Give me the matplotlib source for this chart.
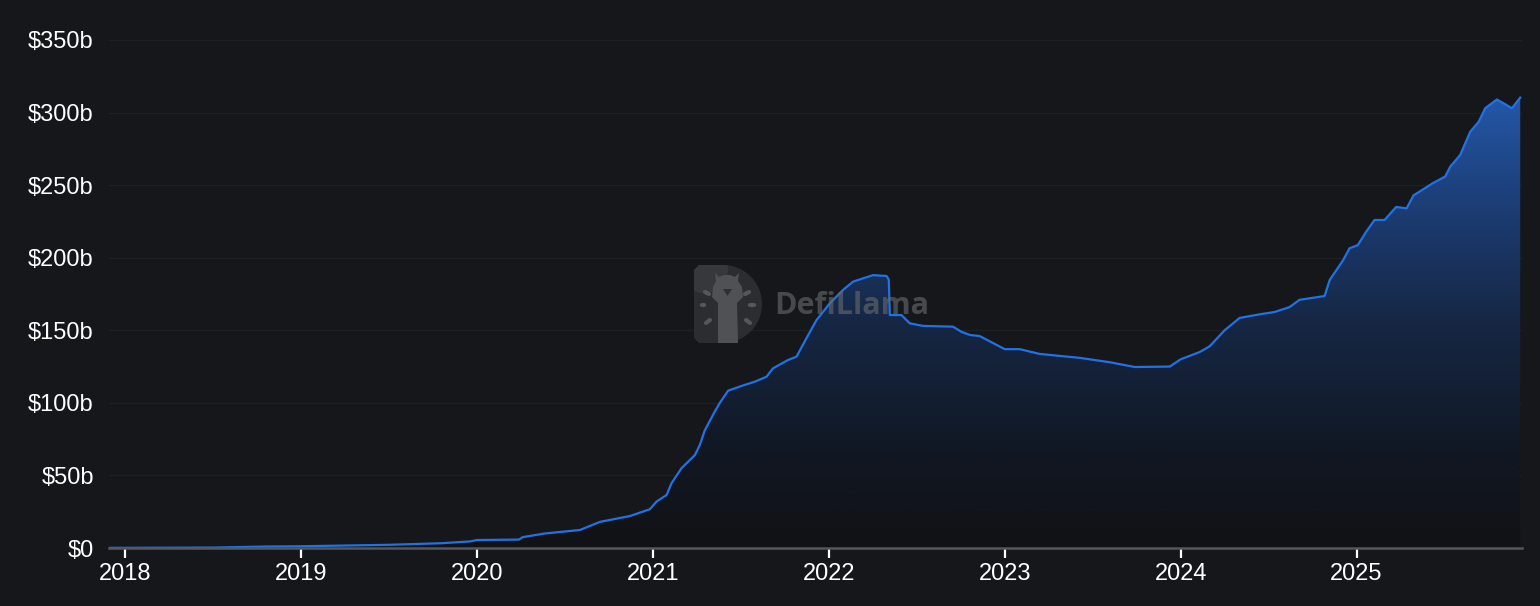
import matplotlib
matplotlib.use("Agg")
import matplotlib.pyplot as plt
import numpy as np
from matplotlib.path import Path
from matplotlib.patches import PathPatch, Circle, Polygon

# TVL readings (decimal year, $ billions)
years = [2017.909, 2018.5, 2018.795, 2019.0, 2019.5, 2019.8, 2019.96, 2020.0,
         2020.239, 2020.261, 2020.386, 2020.585, 2020.699, 2020.869, 2020.983,
         2021.021, 2021.078, 2021.106, 2021.163, 2021.239, 2021.267, 2021.295,
         2021.352, 2021.381, 2021.428, 2021.513, 2021.580, 2021.646, 2021.683,
         2021.768, 2021.816, 2021.835, 2021.873, 2021.930, 2022.006, 2022.081,
         2022.138, 2022.195, 2022.252, 2022.328, 2022.341, 2022.347, 2022.413,
         2022.460, 2022.536, 2022.706, 2022.753, 2022.801, 2022.858, 2023.0,
         2023.085, 2023.199, 2023.426, 2023.597, 2023.739, 2023.938, 2024.0,
         2024.108, 2024.165, 2024.250, 2024.335, 2024.449, 2024.534, 2024.619,
         2024.676, 2024.818, 2024.847, 2024.922, 2024.960, 2025.007, 2025.055,
         2025.102, 2025.159, 2025.225, 2025.284, 2025.324, 2025.390, 2025.428,
         2025.504, 2025.532, 2025.589, 2025.609, 2025.646, 2025.694, 2025.731,
         2025.797, 2025.845, 2025.883, 2025.930]
tvl = [0.1, 0.3, 1.0, 1.2, 2.2, 3.3, 4.5, 5.5,
       5.8, 7.5, 10, 12.4, 18, 22, 26.7,
       32, 36.5, 44.6, 55, 64, 71, 81,
       94, 100, 108.4, 112, 114.6, 118, 123.8,
       129.5, 131.8, 136, 144.5, 157, 168.6, 177.8,
       183.5, 185.8, 188, 187.4, 185, 160.5, 160.5,
       154.8, 153, 152.5, 149, 146.8, 146, 137,
       137, 133.7, 131, 128, 124.7, 125, 130,
       135, 139, 150, 158.5, 161, 162.6, 166,
       171, 173.6, 184.6, 198, 206.5, 208.7, 218,
       226, 226, 235, 234, 243, 248, 251,
       256, 262.7, 270.8, 276.5, 286.8, 293.7, 303,
       309, 305.7, 303, 310.3]
year_ticks = [2018, 2019, 2020, 2021, 2022, 2023, 2024, 2025]
y_ticks = [0, 50, 100, 150, 200, 250, 300, 350]

bg = "#16171a"
line_col = "#2172e5"

plt.rcParams["font.family"] = ["Liberation Sans", "DejaVu Sans"]
fig = plt.figure(figsize=(15.4, 6.06), dpi=100, facecolor=bg)
ax = fig.add_axes([0.0708, 0.0957, 0.9175, 0.8383])
ax.set_facecolor(bg)

x = np.array(years)
y = np.array(tvl)
xmin, xmax = 2017.909, 2025.94

# gradient fill under the curve
grad = np.linspace(0, 1, 256).reshape(-1, 1)
cmap = matplotlib.colors.LinearSegmentedColormap.from_list(
    "g", [(0.0, "#111215"), (0.2, "#111722"), (0.5, "#162744"),
          (0.75, "#1c3c73"), (1.0, "#2457a8")])
top = max(tvl)
img = ax.imshow(grad, aspect="auto", cmap=cmap, origin="lower",
                extent=[xmin, xmax, 0, top], zorder=1)
clip = Polygon(np.vstack([np.column_stack([x, y]),
                          [[x[-1], 0], [x[0], 0]]]),
               closed=True, transform=ax.transData)
img.set_clip_path(clip)

ax.plot(x, y, color=line_col, lw=1.6, zorder=3)

ax.set_xlim(xmin, xmax)
ax.set_ylim(0, 350)
ax.set_yticks(y_ticks)
ax.set_yticklabels(["$0" if v == 0 else f"${v}b" for v in y_ticks])
ax.set_xticks(year_ticks)
ax.set_xticklabels([str(v) for v in year_ticks])
ax.grid(axis="y", color="#1f2023", lw=1, zorder=0)
ax.set_axisbelow(True)

for s in ["top", "right", "left"]:
    ax.spines[s].set_visible(False)
ax.spines["bottom"].set_color("#55575b")
ax.spines["bottom"].set_linewidth(1.8)
ax.spines["bottom"].set_zorder(4)
ax.tick_params(axis="y", length=0, labelsize=17, labelcolor="white", pad=11)
ax.tick_params(axis="x", length=7, width=1.6, color="white", labelsize=17,
               labelcolor="white", pad=4)

# watermark logo (D shape with a llama), coords in pixels from top-left of logo box
lg = fig.add_axes([694 / 1540, 1 - 343 / 606, 68 / 1540, 78 / 606], zorder=5)
lg.set_xlim(0, 68)
lg.set_ylim(78, 0)
lg.axis("off")
r = 39
verts = [(5, 0), (29, 0)]
th = np.linspace(np.pi / 2, -np.pi / 2, 40)
verts += [(29 + r * np.cos(t), 39 - r * np.sin(t)) for t in th]
verts += [(5, 78), (0, 73), (0, 5), (5, 0)]
dpath = Path(verts, closed=True)
lg.add_patch(PathPatch(dpath, facecolor="#2f3033", edgecolor="none", alpha=0.9))
halo = Circle((10, 4), 24, facecolor="#3b3c3f", edgecolor="none", alpha=0.8)
halo.set_clip_path(PathPatch(dpath, transform=lg.transData))
lg.add_patch(halo)
llama = [(24, 78), (24, 38), (18, 32), (19, 22), (22, 16), (21, 8), (25, 12),
         (30, 10), (36, 10), (41, 12), (45, 8), (44, 16), (48, 22), (49, 32),
         (43, 38), (44, 78)]
lg.add_patch(Polygon(llama, closed=True, facecolor="#505154", edgecolor="none"))
lg.add_patch(Polygon([(29, 24), (38, 24), (33.5, 31)], closed=True,
                     facecolor="#2f3033", edgecolor="none"))
for (a, b) in [((8, 40), (10, 40)), ((11, 27), (15, 29)), ((12, 58), (16, 55)),
               ((55, 27), (51, 29)), ((56, 40), (60, 40)), ((52, 55), (56, 58))]:
    lg.plot([a[0], b[0]], [a[1], b[1]], color="#56575a", lw=3,
            solid_capstyle="round")

fig.text(0.503, 0.495, "DefiLlama", color="#6a6b6e", alpha=0.6, fontsize=22,
         fontweight="bold", ha="left", va="center", family=["Open Sans", "DejaVu Sans"],
         zorder=6)

fig.savefig("out.png", dpi=100, facecolor=bg)
